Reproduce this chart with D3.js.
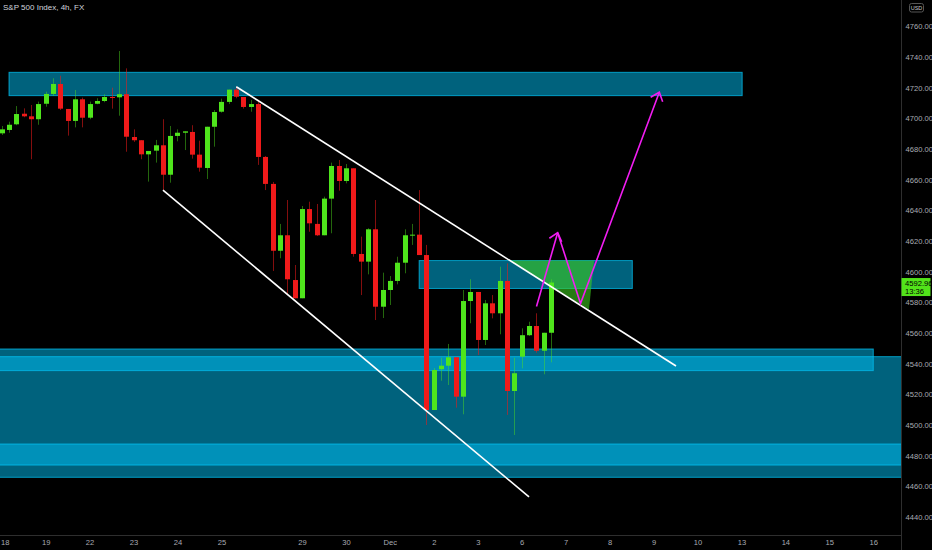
<!DOCTYPE html>
<html><head><meta charset="utf-8">
<script src="https://cdn.jsdelivr.net/npm/d3@7"></script>
<style>html,body{margin:0;padding:0;background:#000;overflow:hidden}svg{display:block}</style>
</head><body>
<svg id="c" width="932" height="550"></svg>
<script>
// ---------- DATA (4h candles, bar index 0..75) ----------
const opens  = [4690.3,4692.5,4696.2,4703.1,4701.4,4699.5,4709.6,4716.0,4722.5,4706.2,4698.4,4712.5,4700.5,4709.6,4711.4,4714.0,4713.8,4715.8,4687.9,4685.8,4676.6,4679.0,4682.5,4663.3,4688.6,4690.7,4691.2,4676.4,4667.7,4694.6,4704.4,4710.8,4718.8,4714.0,4707.5,4709.4,4674.9,4657.3,4613.7,4623.8,4594.6,4582.7,4640.9,4631.2,4623.8,4647.7,4669.0,4659.2,4667.5,4611.6,4606.6,4627.7,4577.2,4588.1,4594.0,4605.9,4623.8,4624.2,4610.9,4509.8,4536.4,4538.7,4544.2,4518.5,4580.9,4586.8,4555.5,4579.4,4572.9,4594.0,4522.2,4544.6,4558.6,4564.6,4548.5,4560.2];
const highs  = [4695.1,4697.9,4708.1,4706.6,4708.8,4711.0,4717.5,4726.2,4727.9,4706.2,4718.6,4713.6,4711.0,4713.2,4715.8,4720.1,4744.0,4732.7,4692.9,4685.8,4678.8,4686.0,4699.5,4695.1,4692.9,4691.6,4695.6,4685.5,4694.6,4705.5,4712.9,4718.8,4720.7,4714.0,4712.1,4711.0,4675.5,4658.6,4631.2,4646.8,4604.4,4642.9,4645.7,4644.2,4649.0,4671.2,4672.9,4670.3,4667.5,4622.9,4628.4,4646.8,4599.4,4597.2,4609.8,4627.7,4631.2,4653.3,4617.5,4537.2,4543.9,4552.9,4544.2,4588.1,4595.1,4586.8,4581.6,4584.8,4603.3,4605.5,4543.9,4563.1,4567.4,4572.9,4560.2,4595.1];
const lows   = [4689.2,4690.7,4695.6,4700.8,4673.4,4695.9,4707.7,4714.7,4705.5,4688.8,4694.2,4694.2,4699.5,4709.3,4710.6,4706.4,4701.8,4678.3,4684.7,4673.4,4658.8,4671.2,4653.3,4658.1,4685.1,4679.4,4673.8,4665.3,4660.5,4681.6,4703.8,4709.4,4713.2,4706.4,4704.4,4669.7,4653.3,4600.5,4608.8,4585.5,4582.7,4582.7,4626.1,4623.3,4623.8,4625.1,4652.9,4657.7,4609.8,4584.8,4598.3,4568.5,4569.8,4578.3,4591.8,4599.0,4617.5,4610.9,4500.0,4509.8,4528.9,4526.1,4511.3,4507.0,4566.4,4545.7,4552.2,4569.6,4559.2,4506.6,4493.5,4537.0,4558.1,4547.2,4533.1,4540.9];
const closes = [4692.9,4695.9,4702.9,4701.4,4699.5,4709.4,4716.0,4722.5,4706.4,4698.4,4712.5,4700.5,4709.4,4711.4,4714.0,4713.6,4715.8,4688.1,4685.8,4676.6,4678.8,4682.5,4663.3,4688.6,4690.7,4691.6,4676.4,4667.9,4694.6,4704.2,4710.8,4718.8,4714.2,4707.5,4709.4,4674.9,4657.3,4613.7,4623.8,4595.1,4582.7,4640.9,4631.6,4623.8,4647.7,4669.0,4659.2,4667.5,4611.6,4606.6,4627.7,4577.2,4588.1,4594.0,4605.9,4623.8,4624.2,4610.9,4509.8,4535.9,4538.7,4544.2,4518.5,4580.9,4586.8,4555.5,4579.4,4572.9,4594.0,4522.2,4533.8,4558.6,4564.6,4548.5,4560.2,4592.96];

// date ticks (bar index where each day label sits)
const dateTickIdx    = [0,6,12,18,24,30,41,47,53,59,65,71,77,83,89,95,101,107,113,119];
const dateTickLabels = ["18","19","22","23","24","25","29","30","Dec","2","3","6","7","8","9","10","13","14","15","16"];
const priceTicks = d3.range(4440, 4761, 20);

// rectangle zones (bar index start/end, price high/low)
const zoneStart = [1.0, 57.0, -10, -10, -10];
const zoneEnd   = [101.1, 86.1, 119.0, 140, 140];
const zoneHigh  = [4730.1, 4607.3, 4549.6, 4544.6, 4487.6];
const zoneLow   = [4714.9, 4589.1, 4535.5, 4465.9, 4473.9];

// trend channel lines
const upperLine = [[32.03, 4720.7], [92.07, 4538.5]];
const lowerLine = [[22.02, 4653.3], [72.0, 4453.1]];
// green breakout triangle
const triangle = [[69.33, 4607.3], [80.87, 4607.3], [80.19, 4575.4]];
// projection paths
const proj1 = [[73.02, 4577.3], [75.91, 4625.5]];
const proj2 = [[75.91, 4625.5], [79.03, 4579.3], [89.79, 4717.1]];

const lastPrice = 4592.96, lastTimer = "13:36";

// ---------- CHART ----------
const W = 932, H = 550, plotR = 901.5, plotB = 535.5;
const svg = d3.select("#c");
svg.append("rect").attr("width", W).attr("height", H).attr("fill", "#000");

const x = d3.scaleLinear().domain([0, 75]).range([1.7, 551]);
const y = d3.scaleLinear().domain([4440, 4760]).range([517, 26.5]);

svg.append("defs").append("clipPath").attr("id", "clip")
  .append("rect").attr("x", 0).attr("y", 0).attr("width", plotR).attr("height", plotB);
const g = svg.append("g").attr("clip-path", "url(#clip)");

// zones
const zoneFill = "rgba(0,188,240,0.52)", zoneStroke = "rgba(0,200,250,0.7)";
g.selectAll("rect.zone").data(zoneStart).join("rect").attr("class", "zone")
  .attr("x", (d, i) => x(zoneStart[i]))
  .attr("y", (d, i) => y(zoneHigh[i]))
  .attr("width", (d, i) => x(zoneEnd[i]) - x(zoneStart[i]))
  .attr("height", (d, i) => y(zoneLow[i]) - y(zoneHigh[i]))
  .attr("fill", zoneFill).attr("stroke", zoneStroke).attr("stroke-width", 1);

// triangle
const line = d3.line().x(d => x(d[0])).y(d => y(d[1]));
g.append("path").attr("d", line(triangle) + "Z").attr("fill", "rgba(62,205,30,0.6)");

// candles
const idx = d3.range(opens.length);
const bw = 5;
const up = "#4fe51c", dn = "#f01a1a";
g.selectAll("line.wick").data(idx).join("line").attr("class", "wick")
  .attr("x1", i => Math.round(x(i)) + 0.5).attr("x2", i => Math.round(x(i)) + 0.5)
  .attr("y1", i => y(highs[i])).attr("y2", i => y(lows[i]))
  .attr("stroke", i => closes[i] >= opens[i] ? "rgba(79,229,28,0.45)" : "rgba(240,26,26,0.55)")
  .attr("stroke-width", 1);
g.selectAll("rect.body").data(idx).join("rect").attr("class", "body")
  .attr("x", i => Math.round(x(i)) + 0.5 - bw / 2)
  .attr("y", i => y(Math.max(opens[i], closes[i])))
  .attr("width", bw)
  .attr("height", i => Math.max(1, Math.abs(y(opens[i]) - y(closes[i]))))
  .attr("fill", i => closes[i] >= opens[i] ? up : dn);

// trend lines
[upperLine, lowerLine].forEach(l => {
  g.append("path").attr("d", line(l)).attr("stroke", "#fff").attr("stroke-width", 1.6).attr("fill", "none");
});

// projection paths with arrowheads
const mag = "#f21df2";
function arrow(pts) {
  g.append("path").attr("d", line(pts)).attr("stroke", mag).attr("stroke-width", 1.6).attr("fill", "none");
  const a = pts[pts.length - 2], b = pts[pts.length - 1];
  const ax = x(a[0]), ay = y(a[1]), bx = x(b[0]), by = y(b[1]);
  const ang = Math.atan2(ay - by, ax - bx);
  const L = 10, sp = 40 * Math.PI / 180;
  const w1 = [bx + L * Math.cos(ang + sp), by + L * Math.sin(ang + sp)];
  const w2 = [bx + L * Math.cos(ang - sp), by + L * Math.sin(ang - sp)];
  g.append("path").attr("d", `M${w1[0]},${w1[1]}L${bx},${by}L${w2[0]},${w2[1]}`)
    .attr("stroke", mag).attr("stroke-width", 1.6).attr("fill", "none");
}
arrow(proj1);
arrow(proj2);

// axis lines
svg.append("line").attr("x1", 0).attr("x2", plotR).attr("y1", plotB).attr("y2", plotB).attr("stroke", "#2e2e2e");
svg.append("line").attr("x1", plotR).attr("x2", plotR).attr("y1", 0).attr("y2", H).attr("stroke", "#2e2e2e");

const font = "'Liberation Sans', Arial, sans-serif";
// y axis
const yAxis = svg.append("g").attr("transform", `translate(${plotR},0)`)
  .call(d3.axisRight(y).tickValues(priceTicks).tickSize(0).tickPadding(4).tickFormat(d3.format(".2f")));
yAxis.select(".domain").remove();
yAxis.selectAll("text").attr("fill", "#a8abb3").attr("font-size", 7.6).attr("font-family", font);

// x axis
const xAxis = svg.append("g").attr("transform", `translate(0,${plotB})`)
  .call(d3.axisBottom(x).tickValues(dateTickIdx).tickSize(0).tickPadding(4)
    .tickFormat((d, i) => dateTickLabels[i]));
xAxis.select(".domain").remove();
xAxis.selectAll("text").attr("fill", "#a8abb3").attr("font-size", 7.6).attr("font-family", font);
// first label sits at the very left edge
xAxis.selectAll(".tick").filter((d, i) => i === 0).select("text")
  .attr("text-anchor", "start").attr("dx", -1.2);

// title
svg.append("text").attr("x", 3).attr("y", 10).text("S&P 500 Index, 4h, FX")
  .attr("fill", "#d1d4dc").attr("font-size", 8).attr("font-family", font);

// USD badge
svg.append("rect").attr("x", 909.5).attr("y", 3.5).attr("width", 14).attr("height", 8.5).attr("rx", 2)
  .attr("fill", "#000").attr("stroke", "#555");
svg.append("text").attr("x", 916.5).attr("y", 10.2).attr("text-anchor", "middle").text("USD")
  .attr("fill", "#c8c8c8").attr("font-size", 5.5).attr("font-family", font);

// last price label
const ly = y(lastPrice);
svg.append("rect").attr("x", plotR).attr("y", ly - 4.5).attr("width", 29).attr("height", 18).attr("fill", "#52e31a");
svg.append("text").attr("x", plotR + 3.5).attr("y", ly + 3).text(d3.format(".2f")(lastPrice))
  .attr("fill", "#000").attr("font-size", 7.6).attr("font-family", font);
svg.append("text").attr("x", plotR + 3.5).attr("y", ly + 11.5).text(lastTimer)
  .attr("fill", "#000").attr("font-size", 7.6).attr("font-family", font);
</script>
</body></html>
